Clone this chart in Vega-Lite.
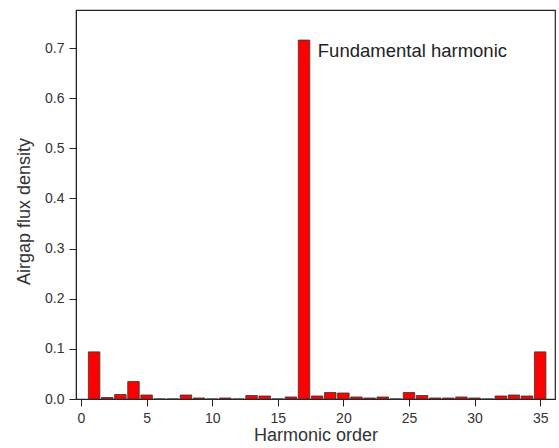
{
  "$schema": "https://vega.github.io/schema/vega-lite/v6.json",
  "width": 479,
  "height": 389,
  "autosize": "none",
  "padding": {"left": 76, "top": 10, "right": 4, "bottom": 49},
  "background": "white",
  "config": {
    "font": "Liberation Sans",
    "view": {"stroke": "#222", "strokeWidth": 1.2},
    "axis": {"grid": false, "domainColor": "#222", "tickColor": "#222", "labelColor": "#333", "titleColor": "#333", "labelFont": "Liberation Sans", "titleFont": "Liberation Sans", "titleFontWeight": "normal", "labelFontSize": 14, "titleFontSize": 18, "tickSize": 7}
  },
  "layer": [
    {
      "data": {"values": [
        {"order": 1, "value": 0.094}, {"order": 2, "value": 0.003}, {"order": 3, "value": 0.009},
        {"order": 4, "value": 0.035}, {"order": 5, "value": 0.008}, {"order": 6, "value": 0},
        {"order": 7, "value": 0}, {"order": 8, "value": 0.008}, {"order": 9, "value": 0.002},
        {"order": 10, "value": 0}, {"order": 11, "value": 0.002}, {"order": 12, "value": 0},
        {"order": 13, "value": 0.007}, {"order": 14, "value": 0.006}, {"order": 15, "value": 0},
        {"order": 16, "value": 0.004}, {"order": 17, "value": 0.716}, {"order": 18, "value": 0.006},
        {"order": 19, "value": 0.013}, {"order": 20, "value": 0.012}, {"order": 21, "value": 0.004},
        {"order": 22, "value": 0.002}, {"order": 23, "value": 0.004}, {"order": 24, "value": 0},
        {"order": 25, "value": 0.013}, {"order": 26, "value": 0.007}, {"order": 27, "value": 0.002},
        {"order": 28, "value": 0.002}, {"order": 29, "value": 0.004}, {"order": 30, "value": 0.002},
        {"order": 31, "value": 0}, {"order": 32, "value": 0.006}, {"order": 33, "value": 0.008},
        {"order": 34, "value": 0.006}, {"order": 35, "value": 0.094}
      ]},
      "mark": {"type": "bar", "size": 11.5, "color": "#ff0000", "stroke": "#333", "strokeWidth": 0.8},
      "encoding": {
        "x": {"field": "order", "type": "quantitative", "scale": {"domain": [0, 35.75], "nice": false, "zero": false},
              "axis": {"values": [0, 5, 10, 15, 20, 25, 30, 35], "title": "Harmonic order", "titlePadding": 1, "labelPadding": 5}},
        "y": {"field": "value", "type": "quantitative", "scale": {"domain": [0, 0.776], "nice": false},
              "axis": {"values": [0, 0.1, 0.2, 0.3, 0.4, 0.5, 0.6, 0.7], "format": ".1f", "title": "Airgap flux density", "titlePadding": 11, "labelPadding": 5, "titleY": 201}}
      }
    },
    {
      "data": {"values": [{"x": 18.05, "y": 0.694, "label": "Fundamental harmonic"}]},
      "mark": {"type": "text", "align": "left", "baseline": "middle", "fontSize": 18.5, "color": "#222", "font": "Liberation Sans"},
      "encoding": {
        "x": {"field": "x", "type": "quantitative"},
        "y": {"field": "y", "type": "quantitative"},
        "text": {"field": "label"}
      }
    }
  ]
}
